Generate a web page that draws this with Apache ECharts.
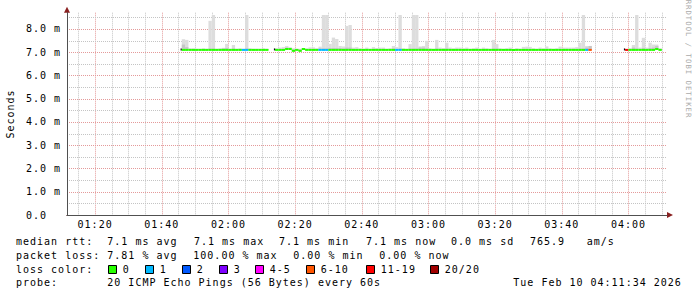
<!DOCTYPE html>
<html><head><meta charset="utf-8">
<script src="https://cdn.jsdelivr.net/npm/echarts@6/dist/echarts.min.js"></script>
<style>
html,body{margin:0;padding:0;background:#fff;}
#chart{width:697px;height:297px;}
#chart text{letter-spacing:1px;}
</style></head><body><div id="chart"></div>
<script>
// ---------- data ----------
const axisStart = '01:11:34';
const axisEnd = '04:11:34';
const xTickLabels = ['01:20','01:40','02:00','02:20','02:40','03:00','03:20','03:40','04:00'];
const yTickLabels = ['0.0\u00a0\u00a0','1.0 m','2.0 m','3.0 m','4.0 m','5.0 m','6.0 m','7.0 m','8.0 m'];
const lossLabels = ['0','1','2','3','4-5','6-10','11-19','20/20'];
const lossColors = ['#26ff00','#00b8ff','#0059ff','#7e00ff','#ff00ff','#ff5500','#ff0000','#a10000'];

// segment 1 (ms), one value per minute
const seg1Start = '01:46';
const seg1Median = [7.1,7.1,7.1,7.1,7.1,7.1,7.1,7.1,7.1,7.1,7.1,7.1,7.1,7.1,7.1,7.1,7.1,7.1,7.1,7.1,7.1,7.1,7.1,7.1,7.1,7.1];
const seg1Max = [7.56,7.53,7.17,7.17,7.15,7.15,7.17,7.15,8.35,8.6,7.15,7.17,7.19,7.36,7.15,7.31,7.15,7.17,7.15,8.6,7.17,7.15,7.15,7.15,7.17,7.15];
const seg1Mid = [7.33,7.22,7.14,7.14,7.13,7.13,7.14,7.13,7.16,7.16,7.13,7.14,7.16,7.18,7.13,7.16,7.13,7.14,7.13,7.16,7.14,7.13,7.13,7.13,7.14,7.13];
const seg1Loss = [0,0,0,0,0,0,0,0,0,0,0,0,0,0,0,0,0,0,1,1,0,0,0,0,0,0];

// segment 2
const seg2Start = '02:14';
const seg2Median = [7.1,7.1,7.1,7.14,7.14,7.06,7.1,7.06,7.14,7.1,
  7.1,7.1,7.1,7.1,7.1,7.1,7.1,7.1,7.1,7.1,
  7.1,7.1,7.1,7.1,7.1,7.1,7.1,7.1,7.1,7.1,
  7.1,7.1,7.1,7.1,7.1,7.1,7.1,7.1,7.1,7.1,
  7.1,7.1,7.1,7.1,7.1,7.1,7.1,7.1,7.1,7.1,
  7.1,7.1,7.1,7.1,7.1,7.1,7.1,7.1,7.1,7.1,
  7.1,7.1,7.1,7.1,7.1,7.1,7.1,7.1,7.1,7.1,
  7.1,7.1,7.1,7.1,7.1,7.1,7.1,7.1,7.1,7.1,
  7.1,7.1,7.1,7.1,7.1,7.1,7.1,7.1,7.1,7.1,
  7.1,7.1,7.1,7.1,7.1];
const seg2Max = [7.17,7.2,7.22,7.27,7.22,7.17,7.15,7.15,7.17,7.17,
  7.21,7.21,7.17,7.24,8.6,8.6,7.36,7.63,7.57,7.27,
  7.25,8.13,8.17,7.2,7.22,7.17,7.15,7.2,7.15,7.22,
  7.18,7.2,7.2,7.15,7.17,7.27,7.22,8.6,7.17,7.15,
  7.35,8.6,8.6,7.25,7.27,7.49,7.17,7.15,7.53,7.2,
  7.18,7.41,7.2,7.17,7.2,7.2,7.17,7.2,7.15,7.17,
  7.2,7.15,7.2,7.17,7.15,7.53,7.35,7.17,7.15,7.17,
  7.2,7.15,7.17,7.15,7.23,7.24,7.23,7.17,7.15,7.2,
  7.17,7.25,7.17,7.15,7.17,7.24,7.2,7.2,7.2,7.2,
  7.22,7.41,8.6,7.27,7.27];
const seg2Mid = [7.14,7.14,7.14,7.2,7.14,7.13,7.13,7.13,7.14,7.14,
  7.14,7.14,7.14,7.16,7.16,7.16,7.18,7.18,7.18,7.18,
  7.16,7.2,7.2,7.14,7.14,7.13,7.13,7.14,7.13,7.14,
  7.14,7.14,7.14,7.13,7.13,7.16,7.14,7.16,7.13,7.13,
  7.16,7.16,7.16,7.2,7.2,7.16,7.13,7.13,7.16,7.14,
  7.14,7.16,7.14,7.13,7.14,7.14,7.13,7.14,7.13,7.13,
  7.14,7.13,7.14,7.13,7.13,7.16,7.16,7.13,7.13,7.13,
  7.14,7.13,7.13,7.13,7.14,7.14,7.14,7.13,7.13,7.14,
  7.13,7.14,7.13,7.13,7.13,7.14,7.14,7.14,7.14,7.14,
  7.14,7.16,7.16,7.2,7.27];
const seg2Loss = [0,0,0,0,0,0,0,0,0,0,
  0,0,0,1,1,1,0,0,0,0,
  0,0,0,0,0,0,0,0,0,0,
  0,0,0,0,0,0,1,1,0,0,
  0,0,0,0,0,0,0,0,0,0,
  0,0,0,0,0,0,0,0,0,0,
  0,0,0,0,0,0,0,0,0,0,
  0,0,0,0,0,0,0,0,0,0,
  0,0,0,0,0,0,0,0,0,0,
  0,0,0,1,5];

// segment 3
const seg3Start = '03:59';
const seg3Median = [7.1,7.1,7.1,7.1,7.1,7.1,7.1,7.1,7.1,7.14,7.1];
const seg3Max = [7.1,7.17,7.31,8.6,7.2,7.62,7.2,7.41,7.33,7.33,7.17];
const seg3Mid = [7.1,7.14,7.2,7.16,7.14,7.18,7.14,7.18,7.2,7.27,7.14];
const seg3Loss = [6,0,0,0,0,0,0,0,0,0,0];

// legend texts
const medianTitle = 'median rtt:';
const medianStats = ['7.1 ms avg','7.1 ms max','7.1 ms min','7.1 ms now','0.0 ms sd','765.9','am/s'];
const lossTitle = 'packet loss:';
const lossStats = ['7.81 % avg','100.00 % max','0.00 % min','0.00 % now'];
const lossColorTitle = 'loss color:';
const probeTitle = 'probe:';
const probeText = '20 ICMP Echo Pings (56 Bytes) every 60s';
const dateText = 'Tue Feb 10 04:11:34 2026';
const yAxisTitle = 'Seconds';
const watermark = 'RRDTOOL / TOBI OETIKER';

// ---------- build ----------
const MONO = '"DejaVu Sans Mono", monospace';
function toMin(s){ const p = s.split(':').map(Number); return p[0]*60 + p[1] + (p[2]||0)/60; }
function pad(n){ return (n<10?'0':'') + n; }

const segs = [
  [seg1Start, seg1Median, seg1Max, seg1Mid, seg1Loss],
  [seg2Start, seg2Median, seg2Max, seg2Mid, seg2Loss],
  [seg3Start, seg3Median, seg3Max, seg3Mid, seg3Loss]
];
const smokeHiRows = [], smokeMidRows = [], medianRows = [], stubRows = [];
segs.forEach(([st, med, mx, md, ls]) => {
  const s = toMin(st);
  med.forEach((v, i) => {
    smokeHiRows.push([s+i, v, mx[i]]);
    smokeMidRows.push([s+i, v, md[i]]);
    medianRows.push([s+i, v, ls[i]]);
  });
  stubRows.push([s, med[0]]);
});

const xMin = toMin(axisStart), xMax = toMin(axisEnd);
const xMajor = xTickLabels.map(toMin);
const yMajor = [1,2,3,4,5,6,7,8];
const gridRows = [];  // [value, axis(0=x,1=y), major]
for (let m = Math.ceil(xMin/5)*5; m < xMax; m += 5) gridRows.push([m, 0, xMajor.indexOf(m) >= 0 ? 1 : 0]);
for (let v = 0.5; v < 8.7; v += 0.5) gridRows.push([v, 1, Number.isInteger(v) ? 1 : 0]);

const gridCol = '#c4c4c4', majorCol = '#e49a9a';
function gridItem(params, api){
  const v = api.value(0), ax = api.value(1), major = api.value(2);
  const cs = params.coordSys;
  let shape;
  if (ax === 0) {
    const x = Math.round(api.coord([v, 0])[0]) + 0.5;
    shape = {x1:x, y1:cs.y, x2:x, y2:cs.y+cs.height};
  } else {
    const y = Math.round(api.coord([xMin, v])[1]) + 0.5;
    shape = {x1:cs.x, y1:y, x2:cs.x+cs.width, y2:y};
  }
  return {type:'line', shape:shape, style:{stroke: major ? majorCol : gridCol, lineWidth:1, lineDash:[1,1]}};
}
function rectItem(fill){
  return function(params, api){
    const t = api.value(0), lo = api.value(1), hi = api.value(2);
    const a = api.coord([t, hi]), b = api.coord([t+1, lo]);
    return {type:'rect', shape:{x:a[0], y:a[1], width:b[0]-a[0], height:b[1]-a[1]}, style:{fill:fill}};
  };
}
function medianItem(params, api){
  const t = api.value(0), m = api.value(1), li = api.value(2);
  const a = api.coord([t, m]), b = api.coord([t+1, m]);
  return {type:'rect', shape:{x:a[0], y:a[1]-1, width:b[0]-a[0], height:2}, style:{fill:lossColors[li]}};
}
function stubItem(params, api){
  const a = api.coord([api.value(0), api.value(1)]);
  return {type:'rect', shape:{x:a[0]-1.2, y:a[1]-1.5, width:1.2, height:2}, style:{fill:'#111'}};
}

const font10 = '10px ' + MONO;
const graphics = [];
function txt(x, y, s){
  graphics.push({type:'text', x:x, y:y, silent:true,
    style:{text:s, font:font10, fill:'#000', align:'left', verticalAlign:'middle'}});
}
const L1 = 241.5, L2 = 255.3, L3 = 269, L4 = 282.6;
txt(16, L1, medianTitle);
[107.3,194,279,366,451,530,586.7].forEach((x,i)=>txt(x, L1, medianStats[i]));
txt(16, L2, lossTitle);
[107.3,193.3,293.3,379.3].forEach((x,i)=>txt(x, L2, lossStats[i]));
txt(16, L3, lossColorTitle);
[108.5,145.5,182.5,219.5,255.5,306.5,366.5,430.5].forEach((x,i)=>{
  graphics.push({type:'rect', silent:true, shape:{x:x, y:265.5, width:8, height:8},
    style:{fill:lossColors[i], stroke:'#000', lineWidth:1}});
  txt(x+14.3, L3, lossLabels[i]);
});
txt(16, L4, probeTitle);
txt(107.3, L4, probeText);
txt(513.3, L4, dateText);
graphics.push({type:'text', x:10.5, y:114, rotation:Math.PI/2, silent:true,
  style:{text:yAxisTitle, font:'10px ' + MONO, fill:'#000', align:'center', verticalAlign:'middle'}});
graphics.push({type:'text', x:688, y:59, rotation:-Math.PI/2, silent:true,
  style:{text:watermark, font:'7.3px ' + MONO, fill:'#aaaaaa', align:'center', verticalAlign:'middle'}});

const chart = echarts.init(document.getElementById('chart'), null, {renderer:'svg'});
const axisColor = '#505050', arrowColor = '#8a2020';
chart.setOption({
  animation:false,
  backgroundColor:'#ffffff',
  grid:{left:67, right:30, top:12.7, bottom:82, outerBoundsMode:'none', containLabel:false},
  xAxis:[{
    type:'value', min:xMin, max:xMax, z:4,
    axisLine:{show:true, onZero:false, lineStyle:{color:axisColor, width:1}},
    axisTick:{show:false}, splitLine:{show:false},
    axisLabel:{show:true, customValues:xMajor, margin:4, color:'#000', fontFamily:MONO, fontSize:10,
      formatter:v=>{ const m=Math.round(v); return pad(Math.floor(m/60))+':'+pad(m%60); }}
  },{
    type:'value', min:xMin, max:xMax, position:'bottom', z:3,
    axisLine:{show:true, onZero:false, lineStyle:{color:arrowColor, width:1},
      symbol:['none','triangle'], symbolSize:[6,6], symbolOffset:[0,3]},
    axisTick:{show:false}, axisLabel:{show:false}, splitLine:{show:false}
  }],
  yAxis:[{
    type:'value', min:0, max:8.7, interval:1, z:4,
    axisLine:{show:true, onZero:false, lineStyle:{color:axisColor, width:1}},
    axisTick:{show:false}, splitLine:{show:false},
    axisLabel:{show:true, margin:6, color:'#000', fontFamily:MONO, fontSize:10, showMaxLabel:false,
      formatter:v=> Number.isInteger(v) && v <= 8 ? yTickLabels[v] : ''}
  },{
    type:'value', min:0, max:8.7, position:'left', z:3,
    axisLine:{show:true, onZero:false, lineStyle:{color:arrowColor, width:1},
      symbol:['none','triangle'], symbolSize:[6,6], symbolOffset:[0,3]},
    axisTick:{show:false}, axisLabel:{show:false}, splitLine:{show:false}
  }],
  series:[
    {type:'custom', z:1, silent:true, renderItem:gridItem, encode:{x:-1, y:-1}, data:gridRows},
    {type:'custom', z:2, silent:true, renderItem:rectItem('#dddddd'), encode:{x:0, y:[1,2]}, data:smokeHiRows},
    {type:'custom', z:3, silent:true, renderItem:rectItem('#c6c6c6'), encode:{x:0, y:[1,2]}, data:smokeMidRows},
    {type:'custom', z:4, silent:true, renderItem:medianItem, encode:{x:0, y:1}, data:medianRows},
    {type:'custom', z:5, silent:true, renderItem:stubItem, encode:{x:0, y:1}, data:stubRows}
  ],
  graphic: graphics
});
</script></body></html>
